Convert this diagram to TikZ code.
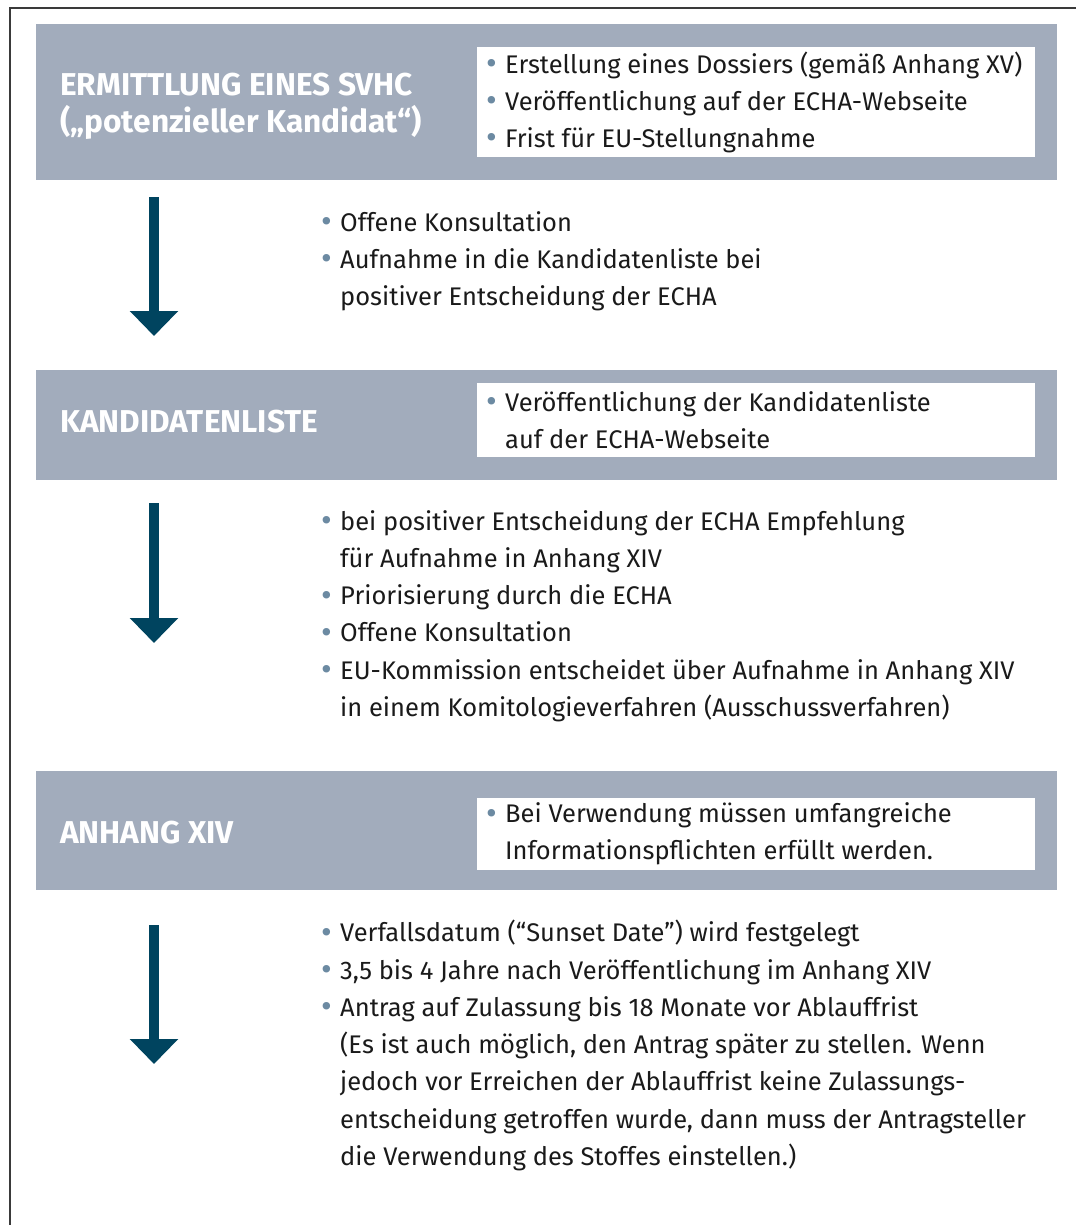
\documentclass[tikz,border=0pt]{standalone}
\usepackage{fontspec}
\setmainfont{Fira Sans}
\usetikzlibrary{arrows.meta,positioning}
\definecolor{BandGray}{HTML}{A2ACBC}
\definecolor{FlowBlue}{HTML}{00445F}
\definecolor{BulletBlue}{HTML}{6C8AA2}
\definecolor{FrameGray}{HTML}{3A3A3A}
\definecolor{TextBlack}{HTML}{1A1A1A}
\newcommand{\bl}{\makebox[19pt][l]{\raisebox{-1.5pt}{\fontsize{33}{33}\selectfont\textcolor{BulletBlue}{\textbullet}}}}
\newcommand{\ind}{\hspace*{19pt}}

\begin{document}
\begin{tikzpicture}[x=1pt,y=-1pt,
  band/.style={fill=BandGray,inner sep=0pt,anchor=north west,minimum width=1021pt},
  bandtitle/.style={text=white,font=\bfseries\fontsize{31.6}{37}\selectfont,align=left,anchor=west,inner sep=0pt},
  infobox/.style={fill=white,inner xsep=9pt,inner ysep=0pt,anchor=north west,minimum width=558pt,
    text width=540pt,align=flush left,text=TextBlack,font=\fontsize{25.5}{37}\selectfont},
  steptext/.style={text=TextBlack,font=\fontsize{25.5}{37.3}\selectfont,align=left,anchor=north west,inner sep=0pt},
  flowarrow/.style={FlowBlue,line width=10pt,-{Triangle[width=47pt,length=25pt]}}]
  \useasboundingbox (0,0) rectangle (1076,1225);
  % frame, only top and left are visible
  \draw[FrameGray,line width=1.5pt] (10,1225) -- (10,8) -- (1076,8);
  % stage 1
  \node[band,minimum height=156pt] (svhc) at (36,24) {};
  \node[bandtitle] (svhcT) at (60,106) {ERMITTLUNG EINES SVHC\\(„potenzieller Kandidat“)};
  \node[infobox,minimum height=110pt] (svhcI) at (477,47)
    {\bl Erstellung eines Dossiers (gemäß Anhang XV)\\
     \bl Veröffentlichung auf der ECHA-Webseite\\
     \bl Frist für EU-Stellungnahme};
  \coordinate (a1s) at (154,197);
  \coordinate (a1e) at (154,336);
  \draw[flowarrow] (a1s) -- (a1e);
  \node[steptext] (step1) at (321,211)
    {\bl Offene Konsultation\\
     \bl Aufnahme in die Kandidatenliste bei\\
     \ind positiver Entscheidung der ECHA};
  % stage 2
  \node[band,minimum height=110pt] (kandi) at (36,370) {};
  \node[bandtitle] (kandiT) at (60,422) {KANDIDATENLISTE};
  \node[infobox,minimum height=74pt] (kandiI) at (477,383)
    {\bl Veröffentlichung der Kandidatenliste\\
     \ind auf der ECHA-Webseite};
  \coordinate (a2s) at (154,503);
  \coordinate (a2e) at (154,643);
  \draw[flowarrow] (a2s) -- (a2e);
  \node[steptext] (step2) at (321,510)
    {\bl bei positiver Entscheidung der ECHA Empfehlung\\
     \ind für Aufnahme in Anhang XIV\\
     \bl Priorisierung durch die ECHA\\
     \bl Offene Konsultation\\
     \bl EU-Kommission entscheidet über Aufnahme in Anhang XIV\\
     \ind in einem Komitologieverfahren (Ausschussverfahren)};
  % stage 3
  \node[band,minimum height=119pt] (anhang) at (36,771) {};
  \node[bandtitle] (anhangT) at (60,833) {ANHANG XIV};
  \node[infobox,minimum height=72pt] (anhangI) at (477,798)
    {\bl Bei Verwendung müssen umfangreiche\\
     \ind Informationspflichten erfüllt werden.};
  \coordinate (a3s) at (154,925);
  \coordinate (a3e) at (154,1064);
  \draw[flowarrow] (a3s) -- (a3e);
  \node[steptext] (step3) at (321,920)
    {\bl Verfallsdatum (“Sunset Date”) wird festgelegt\\
     \bl 3,5 bis 4 Jahre nach Veröffentlichung im Anhang XIV\\
     \bl Antrag auf Zulassung bis 18 Monate vor Ablauffrist\\
     \ind (Es ist auch möglich, den Antrag später zu stellen. Wenn\\
     \ind jedoch vor Erreichen der Ablauffrist keine Zulassungs-\\
     \ind entscheidung getroffen wurde, dann muss der Antragsteller\\
     \ind die Verwendung des Stoffes einstellen.)};
\end{tikzpicture}
\end{document}
